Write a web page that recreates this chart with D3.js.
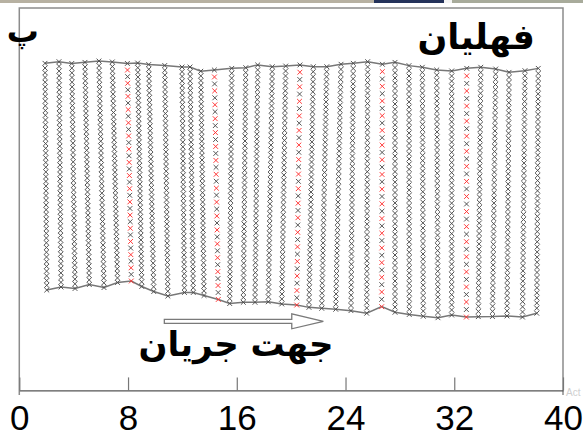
<!DOCTYPE html>
<html>
<head>
<meta charset="utf-8">
<script src="https://cdn.jsdelivr.net/npm/d3@7"></script>
<style>
  body { margin: 0; background: #fff; }
</style>
</head>
<body>
<div id="chart"></div>
<script>

  // mesh columns: x in axis units, top / bottom depth in the same units
  let colTopX = [1.89, 2.92, 3.86, 4.83, 5.86, 6.84, 7.95, 8.71, 9.52, 10.70, 11.97, 12.56, 13.35, 14.35, 15.63, 16.66, 17.54, 18.61, 19.60,
                 20.65, 21.63, 22.62, 23.67, 24.57, 25.63, 26.71, 27.64, 28.67, 29.65, 30.71, 31.81, 32.92, 33.95, 35.05, 36.03, 37.20, 38.18];
  let colTopY = [23.95, 24.07, 23.94, 24.02, 24.12, 24.05, 23.94, 23.97, 23.86, 23.79, 23.68, 23.68, 23.37, 23.46, 23.58, 23.63, 23.83, 23.70, 23.75,
                 23.83, 23.70, 23.70, 23.88, 23.95, 24.07, 23.88, 24.02, 23.78, 23.66, 23.46, 23.39, 23.58, 23.66, 23.53, 23.29, 23.41, 23.58];
  let colBotX = [2.02, 3.07, 4.10, 5.15, 6.23, 7.23, 8.24, 9.01, 9.89, 10.93, 12.15, 12.80, 13.59, 14.64, 15.48, 16.48, 17.34, 18.32, 19.31,
                 20.41, 21.31, 22.25, 23.28, 24.40, 25.56, 26.66, 27.64, 28.69, 29.72, 30.80, 31.81, 32.89, 33.77, 34.81, 35.88, 37.02, 38.07];
  let colBotY = [7.35, 7.57, 7.46, 7.75, 7.53, 7.90, 8.01, 7.61, 7.24, 6.91, 7.17, 7.17, 6.95, 6.66, 6.36, 6.45, 6.45, 6.49, 6.33,
                 6.25, 6.08, 6.01, 5.94, 5.84, 5.65, 6.13, 5.72, 5.56, 5.43, 5.32, 5.52, 5.37, 5.40, 5.41, 5.45, 5.37, 5.65];
  // tracer columns drawn in red (1-based)
  let redCols = [7, 14, 20, 26, 32];
  let grayNodes = 48;
  let redNodes = 33;

  // flow arrow: from / to (x units) at depth
  let arrowX = [10.67, 22.37];
  let arrowY = [5.06];

  let tickValues = [0, 8, 16, 24, 32, 40];
  let titleText = "فهلیان";
  let panelText = "پ";
  let flowText = "جهت جریان";


  let width = 583;
  let height = 436;
  let plot = { left: 19.3, right: 563, top: 8, bottom: 390.4 };

  let x = d3.scaleLinear().domain([0, 40]).range([plot.left, plot.right]);
  let y = d3.scaleLinear().domain([0, 28]).range([plot.bottom, plot.top]);

  let svg = d3.select("#chart")
              .append("svg")
              .attr("width", width)
              .attr("height", height);

  // photo strip cut at the top edge of the slide
  let strip = [[0, 374, "#b7b1a2"], [374, 444, "#24325a"], [444, 452, "#f4f4f4"], [452, 583, "#a8ab9b"]];
  svg.selectAll("rect.strip")
     .data(strip)
     .enter()
     .append("rect")
     .attr("class", "strip")
     .attr("x", function(d) { return d[0]; })
     .attr("y", 0)
     .attr("width", function(d) { return d[1] - d[0]; })
     .attr("height", 3)
     .attr("fill", function(d) { return d[2]; });

  // frame
  svg.append("path")
     .attr("d", "M" + plot.left + ",395V" + plot.top + "H" + plot.right + "V395")
     .attr("fill", "none")
     .attr("stroke", "#8c8c8c")
     .attr("stroke-width", 1.5);

  // axis
  let axis = d3.axisBottom(x)
               .tickValues(tickValues)
               .tickSizeInner(-13)
               .tickSizeOuter(0)
               .tickPadding(15);

  let axisG = svg.append("g")
                 .attr("transform", "translate(0," + plot.bottom + ")")
                 .call(axis);
  axisG.select(".domain").attr("stroke", "#555").attr("stroke-width", 1.2);
  axisG.selectAll(".tick line").attr("stroke", "#777").attr("stroke-width", 1.2);
  axisG.selectAll(".tick text")
       .attr("fill", "#000")
       .style("font-family", "'Liberation Sans', Arial, sans-serif")
       .style("font-size", "35px");

  // columns
  let columns = colTopX.map(function(d, i) {
    return { xt: d, yt: colTopY[i], xb: colBotX[i], yb: colBotY[i], red: redCols.indexOf(i + 1) >= 0 };
  });

  let line = d3.line()
               .x(function(d) { return x(d[0]); })
               .y(function(d) { return y(d[1]); });

  let boundary = svg.append("g").attr("class", "boundary");
  boundary.append("path")
          .attr("d", line(columns.map(function(c) { return [c.xt, c.yt]; })))
          .attr("fill", "none")
          .attr("stroke", "#777")
          .attr("stroke-width", 1.5);
  boundary.append("path")
          .attr("d", line(columns.map(function(c) { return [c.xb, c.yb]; })))
          .attr("fill", "none")
          .attr("stroke", "#777")
          .attr("stroke-width", 1.5);

  let s = 2.4;
  let crossPath = "M" + (-s) + "," + (-s) + "L" + s + "," + s + "M" + (-s) + "," + s + "L" + s + "," + (-s);

  let colGroups = svg.append("g")
                     .attr("class", "columns")
                     .selectAll("g.col")
                     .data(columns)
                     .enter()
                     .append("g")
                     .attr("class", "col");

  colGroups.each(function(c) {
    let n = c.red ? redNodes : grayNodes;
    let nodes = d3.range(n + 1).map(function(k) {
      let t = k / n;
      return { x: c.xt + (c.xb - c.xt) * t, y: c.yt + (c.yb - c.yt) * t, red: c.red && k % 2 == 1 };
    });
    d3.select(this)
      .selectAll("path")
      .data(nodes)
      .enter()
      .append("path")
      .attr("d", crossPath)
      .attr("transform", function(d) { return "translate(" + x(d.x) + "," + y(d.y) + ")"; })
      .attr("fill", "none")
      .attr("stroke", function(d) { return d.red ? "#ff3030" : "#4d4d4d"; })
      .attr("stroke-width", 0.95);
  });

  // flow direction arrow
  let ax0 = x(arrowX[0]), ax1 = x(arrowX[1]), ay = y(arrowY[0]);
  let headLen = 31.6;
  svg.append("path")
     .attr("d", "M" + ax0 + "," + (ay - 2) + "H" + (ax1 - headLen) + "V" + (ay - 7.5) + "L" + ax1 + "," + ay +
                "L" + (ax1 - headLen) + "," + (ay + 7.5) + "V" + (ay + 2) + "H" + ax0 + "Z")
     .attr("fill", "#fff")
     .attr("stroke", "#7a7a7a")
     .attr("stroke-width", 1.3);

  // texts
  svg.append("text")
     .attr("x", 535)
     .attr("y", 49)
     .attr("text-anchor", "end")
     .style("font-family", "'DejaVu Sans', sans-serif")
     .style("font-weight", "bold")
     .style("font-size", "35px")
     .text(titleText);

  svg.append("text")
     .attr("x", 39)
     .attr("y", 42)
     .attr("text-anchor", "end")
     .style("font-family", "'DejaVu Sans', sans-serif")
     .style("font-weight", "bold")
     .style("font-size", "32px")
     .text(panelText);

  svg.append("text")
     .attr("x", 236)
     .attr("y", 356)
     .attr("text-anchor", "middle")
     .style("font-family", "'DejaVu Sans', sans-serif")
     .style("font-weight", "bold")
     .style("font-size", "34px")
     .text(flowText);

  // watermark remains at the right edge
  svg.append("text")
     .attr("x", 566)
     .attr("y", 396)
     .attr("fill", "#cfcfcf")
     .style("font-family", "'Liberation Sans', sans-serif")
     .style("font-size", "10px")
     .text("Act");

</script>
</body>
</html>
